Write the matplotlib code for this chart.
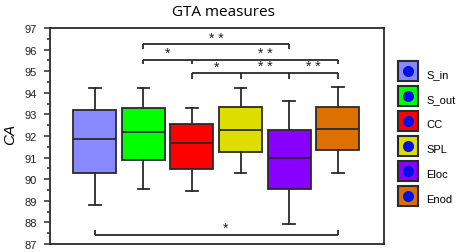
import numpy as np
import matplotlib
matplotlib.use("Agg")
import matplotlib.pyplot as plt
from matplotlib.lines import Line2D
from matplotlib.legend_handler import HandlerTuple
from matplotlib.ticker import MultipleLocator

# box statistics (CA values)
measures = ["S_in", "S_out", "CC", "SPL", "Eloc", "Enod"]
whisk_lo = [88.80, 89.56, 89.45, 90.27, 87.93, 90.30]
q1 = [90.27, 90.89, 90.49, 91.24, 89.56, 91.34]
medians = [91.86, 92.17, 91.69, 92.28, 90.98, 92.32]
q3 = [93.20, 93.31, 92.56, 93.33, 92.26, 93.33]
whisk_hi = [94.24, 94.24, 93.28, 94.24, 93.60, 94.25]
colors = ["#8888ff", "#00ff00", "#ff0000", "#dddd00", "#8800ff", "#dd7000"]

# significance brackets: box indices joined, bar level, tick end, labels
bracket_idx = [[2, 5], [2, 3, 6], [3, 4, 5, 6], [1, 6]]
bracket_y = [96.25, 95.53, 94.92, 87.43]
bracket_tick = [96.03, 95.33, 94.64, 87.66]
bracket_labels = [["* *"], ["*", "* *"], ["*", "* *", "* *"], ["*"]]
bracket_label_x = [[3.5], [2.5, 4.5], [3.5, 4.5, 5.5], [3.7]]

positions = np.arange(1, len(measures) + 1)

fig = plt.figure(figsize=(4.59, 2.53), dpi=100)
ax = fig.add_axes([50 / 459, 1 - 245 / 253, 334 / 459, 216 / 253])

stats = []
for i, name in enumerate(measures):
    stats.append(dict(label=name, whislo=whisk_lo[i], q1=q1[i], med=medians[i],
                      q3=q3[i], whishi=whisk_hi[i], fliers=[]))

edge = "#2a2a2a"
bp = ax.bxp(stats, positions=positions, widths=0.885, patch_artist=True,
            showfliers=False, capwidths=0.24, manage_ticks=False,
            boxprops=dict(edgecolor=edge, linewidth=1.3),
            whiskerprops=dict(color=edge, linewidth=1.3),
            capprops=dict(color=edge, linewidth=1.3),
            medianprops=dict(color=edge, linewidth=1.3))
for patch, c in zip(bp["boxes"], colors):
    patch.set_facecolor(c)

# brackets with stars
for idx, yb, yt, labs, lx in zip(bracket_idx, bracket_y, bracket_tick,
                                 bracket_labels, bracket_label_x):
    ax.plot([idx[0], idx[-1]], [yb, yb], color=edge, lw=1.3,
            solid_capstyle="butt")
    for p in idx:
        ax.plot([p, p], [yb, yt], color=edge, lw=1.3, solid_capstyle="butt")
    for lab, x in zip(labs, lx):
        ax.text(x, yb + 0.12, lab, ha="center", va="baseline", fontsize=10,
                family="Liberation Sans", color="#202020")

ax.set_xlim(0.08, 6.95)
ax.set_ylim(87, 97)
ax.yaxis.set_major_locator(MultipleLocator(1))
ax.yaxis.set_minor_locator(MultipleLocator(0.5))
ax.set_xticks([])
ax.tick_params(axis="y", which="major", length=4.3, width=1.1, pad=5,
               labelsize=8, color=edge, labelcolor="#202020")
ax.tick_params(axis="y", which="minor", length=2.5, width=1.1, color=edge)
for lab in ax.get_yticklabels():
    lab.set_family("Liberation Sans")
for s in ax.spines.values():
    s.set_linewidth(1.3)
    s.set_color(edge)

fig.text(10.5 / 459, 1 - 134 / 253, "CA", rotation=90, ha="center",
         va="center", fontsize=11, style="italic", family="Liberation Sans")
fig.text(223 / 459, 1 - 12.5 / 253, "GTA measures", ha="center", va="center",
         fontsize=11, family="Open Sans")

# legend: coloured square with a blue dot inside
handles = []
for c in colors:
    sq = Line2D([], [], linestyle="none", marker="s", markersize=14.3,
                markerfacecolor=c, markeredgecolor=edge, markeredgewidth=1.5)
    dot = Line2D([], [], linestyle="none", marker="o", markersize=8,
                 markerfacecolor="#0010e8", markeredgecolor="none")
    handles.append((sq, dot))
leg = fig.legend(handles, measures, handler_map={tuple: HandlerTuple(ndivide=1)},
                 loc="upper left", bbox_to_anchor=(393 / 459, 1 - 61 / 253),
                 frameon=False, borderpad=0, handlelength=1.75, handleheight=1.7,
                 labelspacing=0.9, handletextpad=0.75,
                 prop=dict(family="Liberation Sans", size=8))

fig.savefig("out.png", dpi=100)
